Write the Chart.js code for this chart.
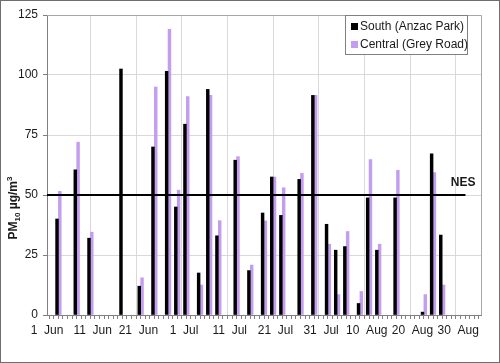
<!DOCTYPE html>
<html>
<head>
<meta charset="utf-8">
<script src="https://cdn.jsdelivr.net/npm/chart.js@4"></script>
<style>
  html, body { margin: 0; padding: 0; background: #fff; }
  canvas { display: block; }
</style>
</head>
<body>
<canvas id="pmChart" width="500" height="363"></canvas>
<script>
// day index counted from 1 Jun (0 = 1 Jun)
const sampleDays = [2, 6, 9, 16, 20, 23, 26, 28, 30, 33, 35, 37, 41, 44, 47, 49, 51, 55, 58, 61, 63, 65, 68, 70, 72, 76, 82, 84, 86];
const southValues = [40, 60.5, 32, 102.5, 12, 70, 101.5, 45, 79.5, 17.5, 94, 33, 64.5, 18.5, 42.5, 57.5, 41.5, 56.5, 91.5, 37.8, 27, 28.5, 4.8, 48.8, 27, 48.8, 1.2, 67.2, 33.3];
const centralValues = [51.5, 72, 34.5, null, 15.5, 95, 119, 52, 91, 12.5, 91.5, 39.3, 66, 20.8, 39.2, 57.5, 53, 59, 91.5, 29.5, 8.5, 34.8, 9.8, 64.8, 29.5, 60.3, 8.5, 59.3, 12.5];
const xTickLabels = ['1  Jun', '11  Jun', '21  Jun', '1  Jul', '11  Jul', '21  Jul', '31  Jul', '10  Aug', '20  Aug', '30  Aug'];
const yTicks = [0, 25, 50, 75, 100, 125];
const nesDays = [0, 91.6];
const nesLevel = 50;

const FONT = '"Liberation Sans", Arial, sans-serif';
const TEXT = '#1a1a1a';

// bars sit in the middle of their day slot
function toPoints(vals) {
    return sampleDays.map((d, i) => ({ x: d + 0.5, y: vals[i] }));
}

const extras = {
    id: 'extras',
    afterDraw(chart) {
        const ctx = chart.ctx;
        const a = chart.chartArea;
        const xs = chart.scales.x, ys = chart.scales.y;
        ctx.save();

        // plot frame (top / right)
        ctx.strokeStyle = '#a6a6a6';
        ctx.lineWidth = 1;
        ctx.beginPath();
        ctx.moveTo(a.left, Math.round(a.top) + 0.5);
        ctx.lineTo(Math.round(a.right) + 0.5, Math.round(a.top) + 0.5);
        ctx.lineTo(Math.round(a.right) + 0.5, a.bottom);
        ctx.stroke();

        // NES label
        ctx.fillStyle = TEXT;
        ctx.font = 'bold 12px ' + FONT;
        ctx.textAlign = 'right';
        ctx.textBaseline = 'middle';
        ctx.fillText('NES', xs.getPixelForValue(nesDays[1]) + 10, ys.getPixelForValue(nesLevel) - 12);

        // legend box
        const lx = 345.5, ly = 15.5, lw = 122, lh = 39;
        ctx.fillStyle = '#fff';
        ctx.fillRect(lx, ly, lw, lh);
        ctx.strokeStyle = '#808080';
        ctx.strokeRect(lx, ly, lw, lh);
        ctx.font = '12px ' + FONT;
        ctx.textAlign = 'left';
        chart.data.datasets.filter(ds => ds.type !== 'line').forEach((ds, i) => {
            const cy = 26 + i * 18;
            ctx.fillStyle = ds.backgroundColor;
            ctx.fillRect(351, cy - 3, 7, 7);
            ctx.fillStyle = TEXT;
            ctx.fillText(ds.label, 360, cy + 1);
        });

        // y title: PM10 ug/m3 with sub/superscript
        ctx.translate(13, 208);
        ctx.rotate(-Math.PI / 2);
        const parts = [
            { t: 'PM', size: 12, dy: 0 },
            { t: '10', size: 8, dy: 3 },
            { t: ' µg/m', size: 12, dy: 0 },
            { t: '3', size: 8, dy: -5 }
        ];
        let total = 0;
        parts.forEach(p => { ctx.font = 'bold ' + p.size + 'px ' + FONT; p.w = ctx.measureText(p.t).width; total += p.w; });
        let px = -total / 2;
        ctx.fillStyle = TEXT;
        ctx.textBaseline = 'alphabetic';
        parts.forEach(p => {
            ctx.font = 'bold ' + p.size + 'px ' + FONT;
            ctx.fillText(p.t, px, 4 + p.dy);
            px += p.w;
        });
        ctx.restore();

        // outer frame
        ctx.save();
        ctx.strokeStyle = '#6e6e6e';
        ctx.lineWidth = 1;
        ctx.strokeRect(0.5, 0.5, chart.width - 1, chart.height - 1);
        ctx.restore();
    }
};

new Chart(document.getElementById('pmChart'), {
    type: 'bar',
    data: {
        datasets: [
            {
                type: 'line',
                label: 'NES',
                data: nesDays.map(d => ({ x: d, y: nesLevel })),
                borderColor: '#000',
                borderWidth: 2,
                pointRadius: 0,
                order: 0
            },
            {
                label: 'South (Anzac Park)',
                data: toPoints(southValues),
                backgroundColor: '#000000',
                barThickness: 2.8,
                order: 1
            },
            {
                label: 'Central (Grey Road)',
                data: toPoints(centralValues),
                backgroundColor: '#c39ef0',
                barThickness: 2.8,
                order: 1
            }
        ]
    },
    options: {
        responsive: false,
        animation: false,
        layout: { padding: { left: 0, right: 19, top: 15, bottom: 0 } },
        plugins: {
            legend: { display: false },
            tooltip: { enabled: false }
        },
        scales: {
            x: {
                type: 'linear',
                min: 0,
                max: 95,
                offset: false,
                afterFit: s => { s.height = 48; },
                ticks: {
                    stepSize: 1,
                    autoSkip: false,
                    maxRotation: 0,
                    padding: 4,
                    color: TEXT,
                    font: { family: FONT, size: 12 },
                    callback: v => (v % 10 === 0 ? xTickLabels[v / 10] : '')
                },
                grid: {
                    color: c => (c.tick && c.tick.value % 10 === 0 && c.tick.value > 0 ? '#d9d9d9' : 'rgba(0,0,0,0)'),
                    tickColor: '#808080',
                    tickLength: 4
                },
                border: { color: '#808080' }
            },
            y: {
                min: 0,
                max: 125,
                afterFit: s => { s.width = 47; },
                afterBuildTicks: s => { s.ticks = yTicks.map(v => ({ value: v })); },
                ticks: {
                    padding: 5,
                    color: TEXT,
                    font: { family: FONT, size: 12 }
                },
                grid: {
                    color: '#d9d9d9',
                    tickColor: '#808080',
                    tickLength: 4
                },
                border: { color: '#808080' }
            }
        }
    },
    plugins: [extras]
});
</script>
</body>
</html>
